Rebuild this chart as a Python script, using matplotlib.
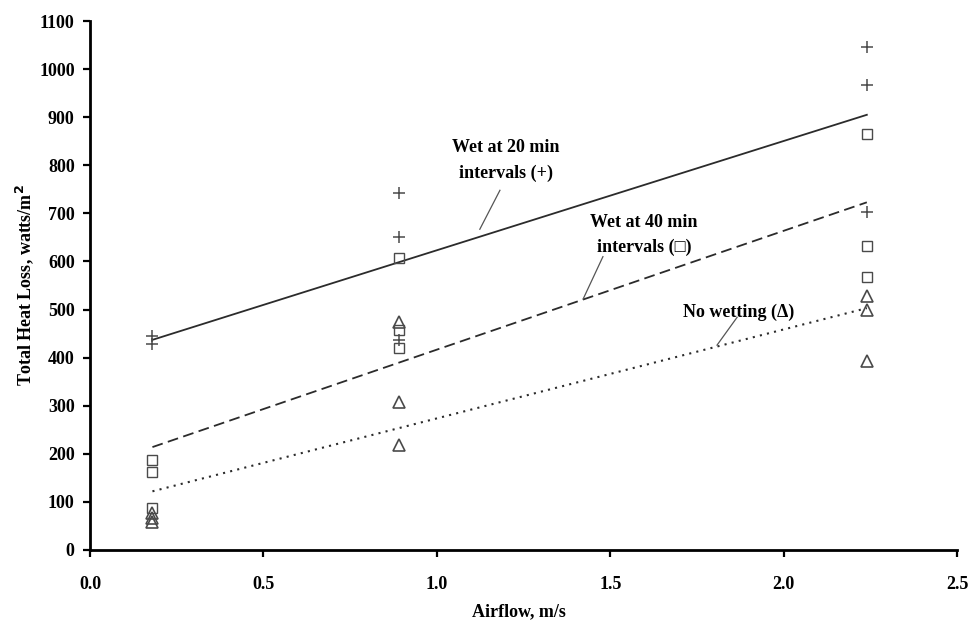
import numpy as np
import matplotlib.pyplot as plt

plt.rcParams['font.family'] = ['Liberation Serif', 'DejaVu Serif']
plt.rcParams['font.weight'] = 'bold'

# Measured heat loss at three airflow speeds
airflow_plus = [0.18, 0.18, 0.89, 0.89, 0.89, 2.24, 2.24, 2.24]
loss_plus = [445, 428, 743, 650, 437, 1045, 968, 703]

airflow_square = [0.18, 0.18, 0.18, 0.89, 0.89, 0.89, 2.24, 2.24, 2.24]
loss_square = [187, 163, 88, 607, 458, 420, 865, 632, 568]

airflow_tri = [0.18, 0.18, 0.18, 0.89, 0.89, 0.89, 2.24, 2.24, 2.24]
loss_tri = [76, 66, 58, 475, 308, 218, 528, 500, 393]

# Fitted trend lines (value at the lowest and highest airflow)
fit_x = [0.18, 2.24]
fit_20min = [437, 905]
fit_40min = [214, 723]
fit_none = [122, 503]

fig, ax = plt.subplots(figsize=(9.7, 6.24), dpi=100)
fig.subplots_adjust(left=0.0928, right=0.9866, bottom=0.1186, top=0.9663)

line_col = '#2b2b2b'
mark_col = '#4a4a4a'

ax.plot(fit_x, fit_20min, '-', color=line_col, lw=1.3)
ax.plot(fit_x, fit_40min, '--', color=line_col, lw=1.3, dashes=(6, 3))
ax.plot(fit_x, fit_none, ':', color=line_col, lw=1.5, dashes=(1, 2.5))

ax.plot(airflow_plus, loss_plus, '+', color=mark_col, ms=9, mew=1.1, ls='none')
ax.plot(airflow_square, loss_square, 's', mfc='none', mec=mark_col, ms=7.5, mew=1.0, ls='none')
ax.plot(airflow_tri, loss_tri, '^', mfc='none', mec=mark_col, ms=8, mew=1.2, ls='none')

# Labels with leader lines
txt = dict(ha='center', va='center', fontsize=13, fontweight='bold', linespacing=1.6)
ax.text(1.2, 810, 'Wet at 20 min\nintervals (+)', **txt)
ax.plot([1.182, 1.124], [748, 667], color='#555555', lw=0.9)

ax.text(1.597, 655, 'Wet at 40 min\nintervals (\u25a1)', **txt)
ax.plot([1.479, 1.422], [610, 522], color='#555555', lw=0.9)

ax.text(1.87, 495, 'No wetting (\u0394)', **txt)
ax.plot([1.866, 1.808], [484, 426], color='#555555', lw=0.9)

ax.set_xlim(0, 2.5)
ax.set_ylim(0, 1100)
ax.set_xticks(np.arange(0, 2.51, 0.5))
ax.set_yticks(np.arange(0, 1101, 100))
ax.set_xticklabels([f'{v:.1f}' for v in np.arange(0, 2.51, 0.5)])

for s in ['top', 'right']:
    ax.spines[s].set_visible(False)
for s in ['left', 'bottom']:
    ax.spines[s].set_linewidth(2.0)
    ax.spines[s].set_color('black')

ax.tick_params(axis='both', direction='out', length=5, width=1.6, labelsize=13)
ax.tick_params(axis='x', pad=14)
ax.tick_params(axis='y', pad=6)
for lab in ax.get_xticklabels() + ax.get_yticklabels():
    lab.set_fontweight('bold')

ax.set_xlabel('Airflow, m/s', fontsize=13, fontweight='bold')
ax.set_ylabel('Total Heat Loss, watts/m$^\\mathbf{2}$', fontsize=13, fontweight='bold')
ax.xaxis.set_label_coords(0.495, -0.1)
ax.yaxis.set_label_coords(-0.062, 0.5)

fig.savefig('out.png', dpi=100)
